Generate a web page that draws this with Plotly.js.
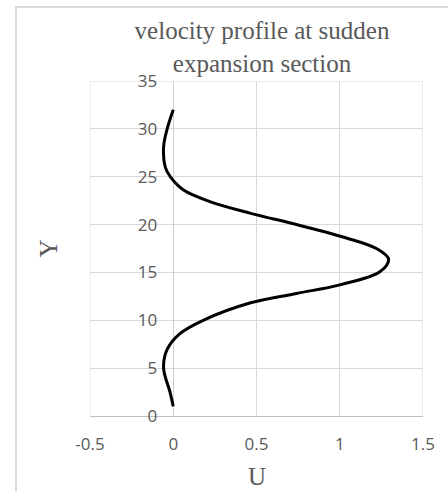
<!DOCTYPE html>
<html>
<head>
<meta charset="utf-8">
<script src="https://cdn.plot.ly/plotly-3.0.1.min.js"></script>
<style>
  html, body { margin: 0; padding: 0; width: 448px; height: 491px; overflow: hidden; background: #fff; }
  #frame { position: absolute; left: 15px; top: 6px; width: 600px; height: 700px; border: 2px solid #d9d9d9; box-sizing: border-box; }
  #chart { position: absolute; left: 0; top: 0; width: 448px; height: 491px; }
</style>
</head>
<body>
<div id="frame"></div>
<div id="chart"></div>
<script>
// Values
const yValues = [1, 2.4, 5.0, 6.9, 8.6, 10.0, 11.8, 12.8, 13.7, 15.1, 16.4, 17.5, 18.6, 20.0, 21.2, 22.4, 23.6, 25.0, 26.0, 28.1, 29.9, 32];
const uValues = [0, -0.018, -0.058, -0.038, 0.04, 0.18, 0.46, 0.74, 1.0, 1.243, 1.293, 1.22, 1.04, 0.74, 0.46, 0.22, 0.062, -0.018, -0.048, -0.058, -0.038, 0];
const xTicks = [-0.5, 0, 0.5, 1, 1.5];
const xTickLabels = ['-0.5', '0', '0.5', '1', '1.5'];
const yTicks = [0, 5, 10, 15, 20, 25, 30, 35];
const yTickLabels = ['0', '5', '10', '15', '20', '25', '30', '35'];
const titleText = 'velocity profile at sudden<br>expansion section';
const xTitle = 'U';
const yTitle = 'Y';

const tickFont = { family: '"Open Sans", sans-serif', size: 17, color: '#595959' };
const serif = '"Liberation Serif", "DejaVu Serif", serif';

const trace = {
  x: uValues,
  y: yValues,
  type: 'scatter',
  mode: 'lines',
  line: { color: '#000000', width: 3, shape: 'spline', smoothing: 1 },
  hoverinfo: 'skip',
  showlegend: false
};

const layout = {
  width: 448,
  height: 491,
  margin: { l: 90, r: 25, t: 81, b: 75 },
  paper_bgcolor: 'rgba(0,0,0,0)',
  plot_bgcolor: 'rgba(0,0,0,0)',
  title: {
    text: titleText,
    font: { family: serif, size: 25, color: '#595959' },
    xref: 'container', x: 262 / 448, xanchor: 'center',
    yref: 'container', y: 1 - 39 / 491, yanchor: 'middle'
  },
  xaxis: {
    range: [-0.5, 1.5],
    tickvals: xTicks,
    ticktext: xTickLabels,
    tickfont: tickFont,
    ticks: '',
    ticklabelstandoff: 13,
    showgrid: true,
    gridcolor: '#d9d9d9',
    gridwidth: 1,
    zeroline: true,
    zerolinecolor: '#d0d0d0',
    zerolinewidth: 1,
    showline: true,
    linecolor: '#c0c0c0',
    linewidth: 1,
    fixedrange: true
  },
  yaxis: {
    range: [0, 35],
    tickvals: yTicks,
    ticktext: yTickLabels,
    tickfont: tickFont,
    ticks: '',
    ticklabelstandoff: 16,
    anchor: 'free',
    position: 0.25,
    showgrid: true,
    gridcolor: '#d9d9d9',
    gridwidth: 1,
    zeroline: false,
    showline: false,
    fixedrange: true
  },
  shapes: [
    { type: 'line', xref: 'x', yref: 'y', x0: -0.5, x1: -0.5, y0: 0, y1: 35, line: { color: '#d9d9d9', width: 1 }, layer: 'below' },
    { type: 'line', xref: 'x', yref: 'y', x0: 1.5, x1: 1.5, y0: 0, y1: 35, line: { color: '#d9d9d9', width: 1 }, layer: 'below' },
    { type: 'line', xref: 'x', yref: 'y', x0: -0.5, x1: 1.5, y0: 35, y1: 35, line: { color: '#d9d9d9', width: 1 }, layer: 'below' }
  ],
  annotations: [
    { text: xTitle, xref: 'paper', yref: 'paper', x: 0.5, y: -60 / 335, xanchor: 'center', yanchor: 'middle', showarrow: false, font: { family: serif, size: 25, color: '#595959' } },
    { text: yTitle, xref: 'paper', yref: 'paper', x: -42 / 333, y: 0.5, xanchor: 'center', yanchor: 'middle', textangle: -90, showarrow: false, font: { family: serif, size: 25, color: '#595959' } }
  ]
};

Plotly.newPlot('chart', [trace], layout, { displayModeBar: false, staticPlot: true });
</script>
</body>
</html>
